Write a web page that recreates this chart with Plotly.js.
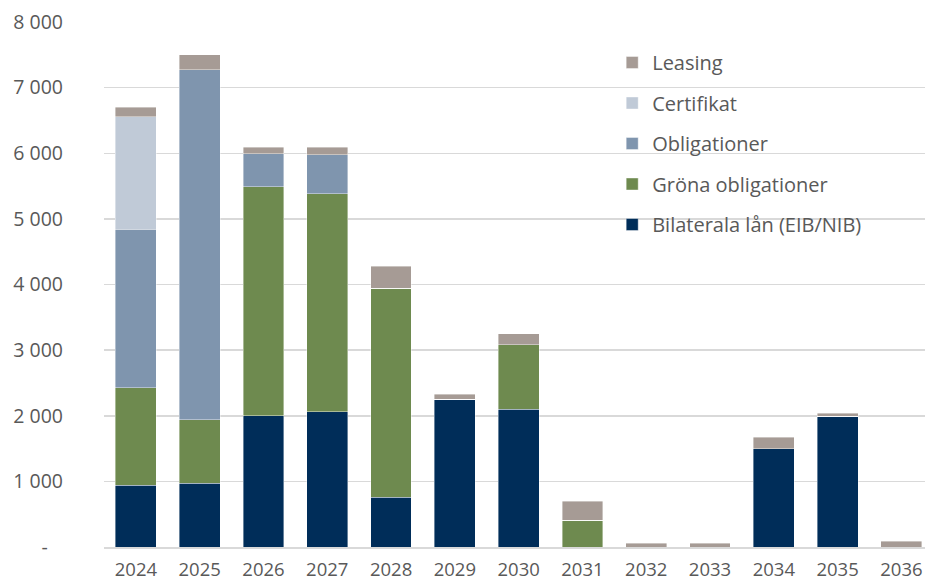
<!DOCTYPE html>
<html>
<head>
<meta charset="utf-8">
<script src="https://cdn.plot.ly/plotly-3.0.1.min.js"></script>
<style>html,body{margin:0;padding:0;background:#fff;}#chart{width:925px;height:582px;}</style>
</head>
<body>
<div id="chart"></div>
<script>
const years = ['2024','2025','2026','2027','2028','2029','2030','2031','2032','2033','2034','2035','2036'];
const bilaterala = [940, 970, 2000, 2060, 760, 2250, 2100, 0, 0, 0, 1500, 1990, 0];
const grona = [1490, 970, 3490, 3320, 3180, 0, 980, 410, 0, 0, 0, 0, 0];
const obligationer = [2410, 5330, 500, 600, 0, 0, 0, 0, 0, 0, 0, 0, 0];
const certifikat = [1720, 0, 0, 0, 0, 0, 0, 0, 0, 0, 0, 0, 0];
const leasing = [140, 230, 100, 110, 340, 80, 170, 290, 60, 60, 170, 50, 90];

const yTickVals = [0, 1000, 2000, 3000, 4000, 5000, 6000, 7000, 8000];
const yTickText = ['-\u00A0\u00A0\u00A0', '1 000', '2 000', '3 000', '4 000', '5 000', '6 000', '7 000', '8 000'];

const seriesNames = ['Bilaterala lån (EIB/NIB)', 'Gröna obligationer', 'Obligationer', 'Certifikat', 'Leasing'];
const seriesData = [bilaterala, grona, obligationer, certifikat, leasing];
const colors = ['#002D59', '#6E8A4F', '#7F95AE', '#C0CAD7', '#A69B95'];

const traces = seriesNames.map((n, i) => ({
  type: 'bar',
  name: n,
  x: years,
  y: seriesData[i],
  legendgroup: 'g' + i,
  legendrank: 10 - i,
  marker: {color: colors[i], line: {color: 'rgba(255,255,255,0.5)', width: 0.8}},
  hoverinfo: 'skip'
}));

const fam = '"Open Sans", sans-serif';

const layout = {
  width: 925, height: 582,
  margin: {l: 104, r: 0, t: 22, b: 35},
  paper_bgcolor: '#fff', plot_bgcolor: '#fff',
  barmode: 'stack',
  bargap: 0.36,
  font: {family: fam, color: '#595959', size: 16},
  showlegend: true,
  legend: {
    x: 0.619, y: 0.96, xanchor: 'left', yanchor: 'top',
    bgcolor: 'rgba(0,0,0,0)',
    traceorder: 'grouped',
    tracegroupgap: 11.5,
    font: {family: fam, color: '#595959', size: 20},
    itemwidth: 30
  },
  xaxis: {
    type: 'category',
    range: [-0.5, 12.37],
    showgrid: false,
    showline: true, linecolor: '#d9d9d9', linewidth: 1.5,
    ticks: '',
    tickfont: {family: fam, color: '#595959', size: 18.5},
    ticklabelstandoff: 5
  },
  yaxis: {
    range: [0, 8000],
    tickvals: yTickVals,
    ticktext: yTickText,
    showgrid: true, gridcolor: '#d9d9d9', gridwidth: 1.5,
    zeroline: false,
    showline: false,
    ticks: '',
    tickfont: {family: fam, color: '#595959', size: 19.5},
    ticklabelstandoff: 40
  }
};

Plotly.newPlot('chart', traces, layout, {displayModeBar: false, staticPlot: true});
</script>
</body>
</html>
